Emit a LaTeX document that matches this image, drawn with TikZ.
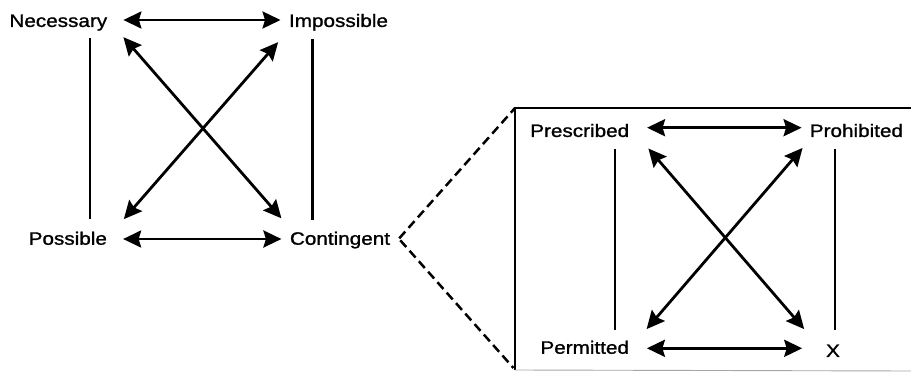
\documentclass[tikz,border=0pt]{standalone}
\usepackage{fontspec}
\setmainfont{Liberation Sans}[FakeStretch=1.15,FakeBold=1.2]
\usetikzlibrary{arrows.meta}

\tikzset{
  label/.style={inner sep=0pt, text height=12.9pt, text depth=0pt,
                font=\fontsize{18}{22}\selectfont},
  head/.tip={Stealth[length=18pt,width=17pt,inset=2.5pt]},
  rel/.style={line width=2.8pt, head-head},
  sub/.style={line width=2.5pt},
  zoomline/.style={line width=2.5pt, dash pattern=on 9pt off 5pt},
  frame/.style={line width=2.8pt},
}

\begin{document}
\begin{tikzpicture}[x=1pt,y=-1pt]
\useasboundingbox (0,0) rectangle (911,372);

% alethic square
\node[label] (nec)  at (58.3,20.5)  {Necessary};
\node[label] (imp)  at (338.5,20.5) {Impossible};
\node[label] (pos)  at (67.8,238.3) {Possible};
\node[label] (cont) at (340,238.3)  {Contingent};

\draw[rel] ([xshift=16pt,yshift=0.5pt]nec.east) -- ([xshift=-8.3pt,yshift=0.5pt]imp.west);
\draw[rel] ([xshift=16pt,yshift=-0.7pt]pos.east) -- ([xshift=-8.3pt,yshift=-0.7pt]cont.west);
\draw[sub] ([xshift=31.7pt,yshift=-11.3pt]nec.south) -- ([xshift=22.2pt,yshift=12.5pt]pos.north);
\draw[sub] ([xshift=-26.2pt,yshift=-12pt]imp.south) -- ([xshift=-27.7pt,yshift=11.3pt]cont.north);
\draw[rel] ([xshift=16pt,yshift=-10pt]nec.south east) -- ([xshift=-8.3pt,yshift=13.3pt]cont.north west);
\draw[rel] ([xshift=-10.7pt,yshift=-15pt]imp.south west) -- ([xshift=16.7pt,yshift=12.5pt]pos.north east);

% deontic square, in its frame
\coordinate (boxtl) at (515,108);
\coordinate (boxbl) at (515,370);
\coordinate (boxtr) at (912,108);
\coordinate (boxbr) at (912,371);
\draw[frame] (boxtr) -- (boxtl) -- (boxbl);
\draw[line width=0.9pt, black!35] (boxbl) -- (boxbr);

\draw[zoomline] ([xshift=9pt]cont.east) -- (boxtl);
\draw[zoomline] ([xshift=10pt,yshift=-2pt]cont.east) -- ([xshift=-1.5pt,yshift=2pt]boxbl);

\node[label] (pres) at (579.7,130.5) {Prescribed};
\node[label] (proh) at (856.4,130.5) {Prohibited};
\node[label] (perm) at (584.7,347.3) {Permitted};
\node[label] (xx)   at (833,350.5)   {X};

\draw[rel] ([xshift=17.7pt,yshift=2.8pt]pres.east) -- ([xshift=-8pt,yshift=2.8pt]proh.west);
\draw[rel] ([xshift=17.7pt,yshift=-1pt]perm.east) -- ([xshift=-23.7pt,yshift=2.2pt]xx.west);
\draw[sub] ([xshift=35.3pt,yshift=-11.35pt]pres.south) -- ([xshift=30.3pt,yshift=10.85pt]perm.north);
\draw[sub] ([xshift=-21.4pt,yshift=-11.35pt]proh.south) -- ([xshift=2pt,yshift=14.05pt]xx.north);
\draw[rel] ([xshift=19pt,yshift=-11.35pt]pres.south east) -- ([xshift=-21.7pt,yshift=14.75pt]xx.north west);
\draw[rel] ([xshift=-7pt,yshift=-10.75pt]proh.south west) -- ([xshift=17.4pt,yshift=11.55pt]perm.north east);
\end{tikzpicture}
\end{document}
